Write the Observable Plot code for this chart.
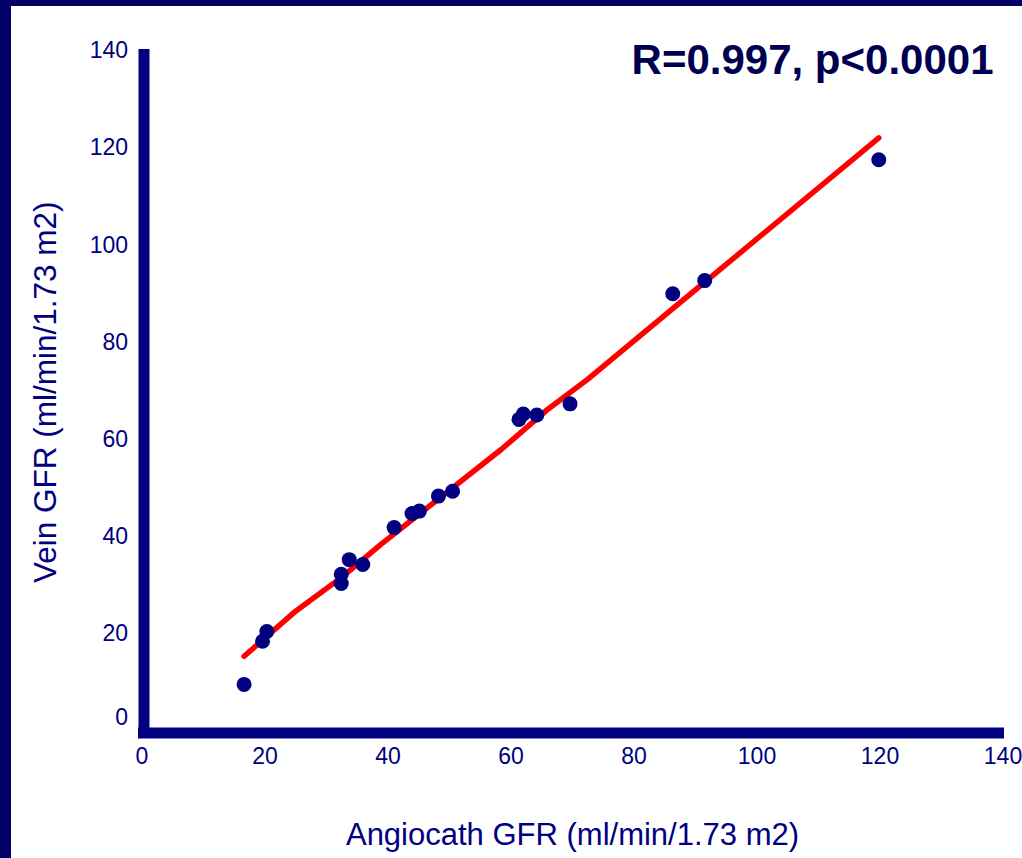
<!DOCTYPE html>
<html>
<head>
<meta charset="utf-8">
<script src="https://cdn.jsdelivr.net/npm/d3@7"></script>
<script src="https://cdn.jsdelivr.net/npm/@observablehq/plot@0.6"></script>
<style>
  html, body { margin: 0; padding: 0; background: #ffffff; }
  #wrap { position: relative; width: 1022px; height: 858px; overflow: hidden; }
  #barTop { position: absolute; left: 0; top: 0; width: 1022px; height: 6px; background: #000066; }
  #barLeft { position: absolute; left: 0; top: 0; width: 11px; height: 858px; background: #000066; }
  #chart svg { display: block; }
</style>
</head>
<body>
<div id="wrap">
  <div id="chart"></div>
  <div id="barTop"></div>
  <div id="barLeft"></div>
</div>
<script>
const angiocathGFR = [16.6, 19.6, 20.3, 32.4, 32.4, 33.7, 35.9, 41.0, 43.9, 45.1, 48.2, 50.5, 61.3, 62.0, 64.2, 69.6, 86.3, 91.5, 119.8];
const veinGFR      = [ 9.5, 18.4, 20.4, 30.3, 32.2, 35.2, 34.2, 41.8, 44.7, 45.2, 48.3, 49.3, 64.1, 65.2, 65.0, 67.3, 90.0, 92.7, 117.6];

// Regression line as traced in the picture
const fitX = [16.6, 24.7, 32.4, 38.9, 47.5, 58.4, 66.0, 72.5, 86.3, 119.8];
const fitY = [15.3, 24.3, 31.5, 38.4, 47.0, 57.9, 66.2, 72.4, 86.9, 122.1];

const xTicks = [0, 20, 40, 60, 80, 100, 120, 140];
const yTicksUpper = [20, 40, 60, 80, 100, 120, 140];
const yTicksZero = [0];

const xLabel = "Angiocath GFR (ml/min/1.73 m2)";
const yLabel = "Vein GFR (ml/min/1.73 m2)";
const statText = "R=0.997, p<0.0001";

const points = angiocathGFR.map((x, i) => ({x, y: veinGFR[i]}));
const fit = fitX.map((x, i) => ({x, y: fitY[i]}));

const navy = "#000080";
const font = "'Liberation Sans', Arial, Helvetica, sans-serif";

const chart = Plot.plot({
  width: 1022,
  height: 858,
  marginLeft: 141.5,
  marginRight: 19.5,
  marginTop: 50.5,
  marginBottom: 128,
  style: {fontFamily: font, background: "transparent", color: navy},
  x: {domain: [0, 140]},
  y: {domain: [0, 140]},
  marks: [
    Plot.axisX({ticks: xTicks, tickSize: 0, tickPadding: 17, fontSize: 23, color: navy, label: null, tickFormat: d => String(d)}),
    Plot.axisY({ticks: yTicksUpper, tickSize: 0, tickPadding: 14, fontSize: 23, color: navy, label: null, tickFormat: d => String(d)}),
    Plot.axisY({ticks: yTicksZero, tickSize: 0, tickPadding: 14, fontSize: 23, color: navy, label: null, dy: -13, tickFormat: d => String(d)}),
    Plot.ruleX([0], {stroke: navy, strokeWidth: 11, dx: 2, insetTop: -1.5, insetBottom: -8}),
    Plot.ruleY([0], {stroke: navy, strokeWidth: 11, dy: 2.5, insetLeft: -3.5, insetRight: -1.5}),
    Plot.line(fit, {x: "x", y: "y", stroke: "#ff0000", strokeWidth: 5.5, strokeLinejoin: "round"}),
    Plot.dot(points, {x: "x", y: "y", r: 7.5, fill: navy, stroke: "none"}),
    Plot.text([statText], {frameAnchor: "top-right", text: d => d, textAnchor: "end", lineAnchor: "middle", dx: -9.5, dy: 9.5, fontSize: 42, fontWeight: "bold", fill: "#000050"}),
    Plot.text([xLabel], {frameAnchor: "bottom", text: d => d, lineAnchor: "middle", dy: 104.5, fontSize: 31, fill: navy}),
    Plot.text([yLabel], {frameAnchor: "left", text: d => d, textAnchor: "middle", lineAnchor: "middle", rotate: -90, dx: -96.5, dy: 1.5, fontSize: 31.5, fill: navy})
  ]
});

document.getElementById("chart").appendChild(chart);
</script>
</body>
</html>
